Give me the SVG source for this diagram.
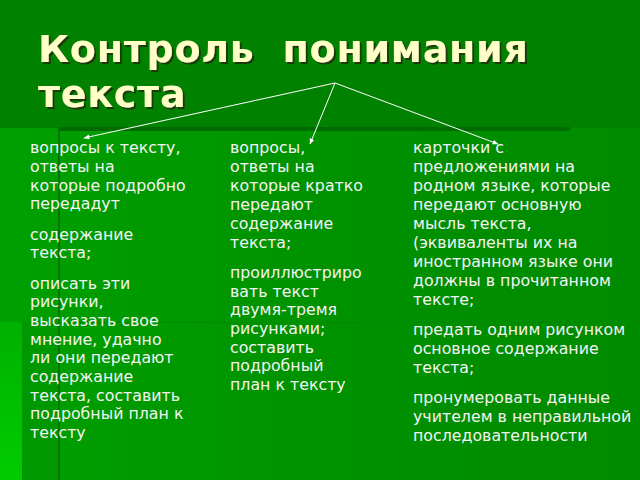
<svg xmlns="http://www.w3.org/2000/svg" width="640" height="480" viewBox="0 0 640 480">
<defs>
<linearGradient id="bg" x1="0" y1="0" x2="1" y2="0">
<stop offset="0" stop-color="#00A000"/>
<stop offset="0.5" stop-color="#009200"/>
<stop offset="1" stop-color="#008A00"/>
</linearGradient>
<linearGradient id="strip" x1="0" y1="0" x2="0" y2="1">
<stop offset="0" stop-color="#00B000"/>
<stop offset="1" stop-color="#00CC00"/>
</linearGradient>
<filter id="shadow" x="-5%" y="-20%" width="110%" height="140%">
<feDropShadow dx="2" dy="2" stdDeviation="0.4" flood-color="#1A3A10" flood-opacity="1"/>
</filter>
<marker id="arr" viewBox="0 0 10 10" refX="9" refY="5" markerWidth="6" markerHeight="6" orient="auto" markerUnits="userSpaceOnUse">
<path d="M0,1 L10,5 L0,9 z" fill="#FFFFFF"/>
</marker>
</defs>
<style>
.t{font-family:"DejaVu Sans","Noto Sans",sans-serif;font-size:15.8px;fill:#F4F4F4}
.title{font-family:"DejaVu Sans","Noto Sans",sans-serif;font-size:38px;font-weight:bold;fill:#FFFFC8;letter-spacing:0.75px;filter:url(#shadow)}
.c{stroke:#FFFFFF;stroke-width:1;fill:none}
</style>
<rect width="640" height="480" fill="url(#bg)"/>
<rect width="640" height="128" fill="#008200"/>
<rect x="0" y="322" width="22" height="158" fill="url(#strip)"/>
<rect x="22" y="322" width="36" height="158" fill="#009800"/>
<rect x="58" y="322" width="582" height="1" fill="#008A00"/>
<rect x="58" y="128" width="2" height="352" fill="#007800"/>
<rect x="58" y="127" width="512" height="4" fill="#006C00"/>

<g id="title">
<text class="title" x="38" y="62" xml:space="preserve">Контроль  понимания</text>
<text class="title" x="38" y="107">текста</text>
</g>

<g id="connectors">
<line class="c" x1="335" y1="83" x2="84" y2="138" marker-end="url(#arr)"/>
<line class="c" x1="335" y1="83" x2="310" y2="144" marker-end="url(#arr)"/>
<line class="c" x1="335" y1="83" x2="498" y2="144" marker-end="url(#arr)"/>
</g>

<g id="col1">
<text class="t" x="30" y="153">вопросы к тексту,</text>
<text class="t" x="30" y="172">ответы на</text>
<text class="t" x="30" y="191">которые подробно</text>
<text class="t" x="30" y="209">передадут</text>
<text class="t" x="30" y="240">содержание</text>
<text class="t" x="30" y="258">текста;</text>
<text class="t" x="30" y="289">описать эти</text>
<text class="t" x="30" y="307">рисунки,</text>
<text class="t" x="30" y="326">высказать свое</text>
<text class="t" x="30" y="345">мнение, удачно</text>
<text class="t" x="30" y="363">ли они передают</text>
<text class="t" x="30" y="382">содержание</text>
<text class="t" x="30" y="401">текста, составить</text>
<text class="t" x="30" y="419">подробный план к</text>
<text class="t" x="30" y="438">тексту</text>
</g>

<g id="col2">
<text class="t" x="230" y="153">вопросы,</text>
<text class="t" x="230" y="172">ответы на</text>
<text class="t" x="230" y="191">которые кратко</text>
<text class="t" x="230" y="210">передают</text>
<text class="t" x="230" y="229">содержание</text>
<text class="t" x="230" y="248">текста;</text>
<text class="t" x="230" y="278">проиллюстриро</text>
<text class="t" x="230" y="297">вать текст</text>
<text class="t" x="230" y="315">двумя-тремя</text>
<text class="t" x="230" y="334">рисунками;</text>
<text class="t" x="230" y="353">составить</text>
<text class="t" x="230" y="371">подробный</text>
<text class="t" x="230" y="390">план к тексту</text>
</g>

<g id="col3">
<text class="t" x="413" y="153">карточки с</text>
<text class="t" x="413" y="172">предложениями на</text>
<text class="t" x="413" y="191">родном языке, которые</text>
<text class="t" x="413" y="210">передают основную</text>
<text class="t" x="413" y="229">мысль текста,</text>
<text class="t" x="413" y="248">(эквиваленты их на</text>
<text class="t" x="413" y="267">иностранном языке они</text>
<text class="t" x="413" y="286">должны в прочитанном</text>
<text class="t" x="413" y="305">тексте;</text>
<text class="t" x="413" y="335">предать одним рисунком</text>
<text class="t" x="413" y="354">основное содержание</text>
<text class="t" x="413" y="373">текста;</text>
<text class="t" x="413" y="403">пронумеровать данные</text>
<text class="t" x="413" y="422">учителем в неправильной</text>
<text class="t" x="413" y="441">последовательности</text>
</g>
</svg>
